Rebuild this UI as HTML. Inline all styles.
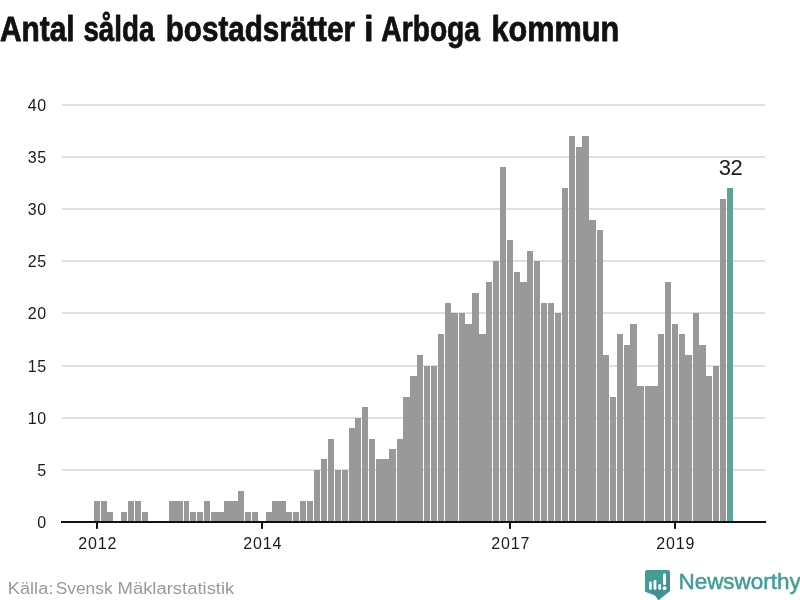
<!DOCTYPE html>
<html lang="sv"><head><meta charset="utf-8"><title>Antal sålda bostadsrätter i Arboga kommun</title>
<style>
html,body{margin:0;padding:0;background:#fff;}
body{width:800px;height:600px;position:relative;overflow:hidden;font-family:"Liberation Sans",sans-serif;}
#title{font-family:"Liberation Sans",sans-serif;font-weight:bold;font-size:35.2px;fill:#111;stroke:#111;stroke-width:0.8px;stroke-linejoin:round;}
#chart{position:absolute;left:0;top:0;}
.ax{font-family:"Liberation Sans",sans-serif;font-size:16px;fill:#1a1a1a;}
.xl{letter-spacing:0.85px;}
.yl{letter-spacing:0.5px;}
.val{font-family:"Liberation Sans",sans-serif;font-size:22px;letter-spacing:-0.6px;fill:#1a1a1a;}
#src{font-family:"Liberation Sans",sans-serif;font-size:16px;fill:#9a9a9a;}
#brand{font-family:"Liberation Sans",sans-serif;font-size:21.6px;fill:#419e97;stroke:#419e97;stroke-width:0.5px;}
#logo{position:absolute;left:644px;top:569px;}
</style></head><body>
<svg id="chart" width="800" height="600" viewBox="0 0 800 600">
<g shape-rendering="crispEdges">
<rect x="62" y="469" width="703" height="2" fill="#e0e0e0"/>
<rect x="62" y="417" width="703" height="2" fill="#e0e0e0"/>
<rect x="62" y="365" width="703" height="2" fill="#e0e0e0"/>
<rect x="62" y="312" width="703" height="2" fill="#e0e0e0"/>
<rect x="62" y="260" width="703" height="2" fill="#e0e0e0"/>
<rect x="62" y="208" width="703" height="2" fill="#e0e0e0"/>
<rect x="62" y="156" width="703" height="2" fill="#e0e0e0"/>
<rect x="62" y="104" width="703" height="2" fill="#e0e0e0"/>
<rect x="94" y="501" width="6" height="21" fill="#999999"/>
<rect x="101" y="501" width="6" height="21" fill="#999999"/>
<rect x="107" y="512" width="6" height="10" fill="#999999"/>
<rect x="121" y="512" width="6" height="10" fill="#999999"/>
<rect x="128" y="501" width="6" height="21" fill="#999999"/>
<rect x="135" y="501" width="6" height="21" fill="#999999"/>
<rect x="142" y="512" width="6" height="10" fill="#999999"/>
<rect x="169" y="501" width="7" height="21" fill="#999999"/>
<rect x="176" y="501" width="7" height="21" fill="#999999"/>
<rect x="184" y="501" width="5" height="21" fill="#999999"/>
<rect x="190" y="512" width="6" height="10" fill="#999999"/>
<rect x="197" y="512" width="6" height="10" fill="#999999"/>
<rect x="204" y="501" width="6" height="21" fill="#999999"/>
<rect x="211" y="512" width="6" height="10" fill="#999999"/>
<rect x="217" y="512" width="7" height="10" fill="#999999"/>
<rect x="224" y="501" width="7" height="21" fill="#999999"/>
<rect x="231" y="501" width="7" height="21" fill="#999999"/>
<rect x="238" y="491" width="6" height="31" fill="#999999"/>
<rect x="245" y="512" width="6" height="10" fill="#999999"/>
<rect x="252" y="512" width="6" height="10" fill="#999999"/>
<rect x="266" y="512" width="6" height="10" fill="#999999"/>
<rect x="272" y="501" width="7" height="21" fill="#999999"/>
<rect x="279" y="501" width="7" height="21" fill="#999999"/>
<rect x="286" y="512" width="6" height="10" fill="#999999"/>
<rect x="293" y="512" width="6" height="10" fill="#999999"/>
<rect x="300" y="501" width="6" height="21" fill="#999999"/>
<rect x="307" y="501" width="6" height="21" fill="#999999"/>
<rect x="314" y="470" width="6" height="52" fill="#999999"/>
<rect x="321" y="459" width="6" height="63" fill="#999999"/>
<rect x="328" y="439" width="6" height="83" fill="#999999"/>
<rect x="335" y="470" width="6" height="52" fill="#999999"/>
<rect x="342" y="470" width="6" height="52" fill="#999999"/>
<rect x="349" y="428" width="6" height="94" fill="#999999"/>
<rect x="355" y="418" width="6" height="104" fill="#999999"/>
<rect x="362" y="407" width="6" height="115" fill="#999999"/>
<rect x="369" y="439" width="6" height="83" fill="#999999"/>
<rect x="376" y="459" width="6" height="63" fill="#999999"/>
<rect x="382" y="459" width="7" height="63" fill="#999999"/>
<rect x="389" y="449" width="7" height="73" fill="#999999"/>
<rect x="397" y="439" width="6" height="83" fill="#999999"/>
<rect x="403" y="397" width="7" height="125" fill="#999999"/>
<rect x="410" y="376" width="7" height="146" fill="#999999"/>
<rect x="417" y="355" width="6" height="167" fill="#999999"/>
<rect x="424" y="366" width="6" height="156" fill="#999999"/>
<rect x="431" y="366" width="6" height="156" fill="#999999"/>
<rect x="438" y="334" width="6" height="188" fill="#999999"/>
<rect x="445" y="303" width="6" height="219" fill="#999999"/>
<rect x="451" y="313" width="7" height="209" fill="#999999"/>
<rect x="459" y="313" width="6" height="209" fill="#999999"/>
<rect x="465" y="324" width="7" height="198" fill="#999999"/>
<rect x="472" y="293" width="7" height="229" fill="#999999"/>
<rect x="479" y="334" width="7" height="188" fill="#999999"/>
<rect x="486" y="282" width="6" height="240" fill="#999999"/>
<rect x="493" y="261" width="6" height="261" fill="#999999"/>
<rect x="500" y="167" width="6" height="355" fill="#999999"/>
<rect x="507" y="240" width="6" height="282" fill="#999999"/>
<rect x="514" y="272" width="6" height="250" fill="#999999"/>
<rect x="520" y="282" width="7" height="240" fill="#999999"/>
<rect x="527" y="251" width="6" height="271" fill="#999999"/>
<rect x="534" y="261" width="6" height="261" fill="#999999"/>
<rect x="541" y="303" width="6" height="219" fill="#999999"/>
<rect x="548" y="303" width="6" height="219" fill="#999999"/>
<rect x="555" y="313" width="6" height="209" fill="#999999"/>
<rect x="562" y="188" width="6" height="334" fill="#999999"/>
<rect x="569" y="136" width="6" height="386" fill="#999999"/>
<rect x="576" y="147" width="6" height="375" fill="#999999"/>
<rect x="582" y="136" width="7" height="386" fill="#999999"/>
<rect x="589" y="220" width="7" height="302" fill="#999999"/>
<rect x="597" y="230" width="6" height="292" fill="#999999"/>
<rect x="603" y="355" width="6" height="167" fill="#999999"/>
<rect x="610" y="397" width="6" height="125" fill="#999999"/>
<rect x="617" y="334" width="6" height="188" fill="#999999"/>
<rect x="624" y="345" width="6" height="177" fill="#999999"/>
<rect x="630" y="324" width="7" height="198" fill="#999999"/>
<rect x="637" y="386" width="7" height="136" fill="#999999"/>
<rect x="645" y="386" width="6" height="136" fill="#999999"/>
<rect x="651" y="386" width="7" height="136" fill="#999999"/>
<rect x="658" y="334" width="6" height="188" fill="#999999"/>
<rect x="665" y="282" width="6" height="240" fill="#999999"/>
<rect x="672" y="324" width="6" height="198" fill="#999999"/>
<rect x="679" y="334" width="6" height="188" fill="#999999"/>
<rect x="685" y="355" width="7" height="167" fill="#999999"/>
<rect x="693" y="313" width="6" height="209" fill="#999999"/>
<rect x="699" y="345" width="7" height="177" fill="#999999"/>
<rect x="706" y="376" width="6" height="146" fill="#999999"/>
<rect x="713" y="366" width="6" height="156" fill="#999999"/>
<rect x="720" y="199" width="6" height="323" fill="#999999"/>
<rect x="727" y="188" width="6" height="334" fill="#5ba59b"/>
</g>
<rect x="61" y="521" width="705" height="2" fill="#111111"/>
<rect x="96" y="522" width="2" height="6.85" fill="#111111"/>
<text x="97.80" y="549" text-anchor="middle" class="ax xl">2012</text>
<rect x="261" y="522" width="2" height="6.85" fill="#111111"/>
<text x="262.80" y="549" text-anchor="middle" class="ax xl">2014</text>
<rect x="509" y="522" width="2" height="6.85" fill="#111111"/>
<text x="510.80" y="549" text-anchor="middle" class="ax xl">2017</text>
<rect x="674" y="522" width="2" height="6.85" fill="#111111"/>
<text x="675.80" y="549" text-anchor="middle" class="ax xl">2019</text>
<text x="46.6" y="527.80" text-anchor="end" class="ax yl">0</text>
<text x="46.6" y="475.80" text-anchor="end" class="ax yl">5</text>
<text x="46.6" y="423.80" text-anchor="end" class="ax yl">10</text>
<text x="46.6" y="371.80" text-anchor="end" class="ax yl">15</text>
<text x="46.6" y="318.80" text-anchor="end" class="ax yl">20</text>
<text x="46.6" y="266.80" text-anchor="end" class="ax yl">25</text>
<text x="46.6" y="214.80" text-anchor="end" class="ax yl">30</text>
<text x="46.6" y="162.80" text-anchor="end" class="ax yl">35</text>
<text x="46.6" y="110.80" text-anchor="end" class="ax yl">40</text>
<text x="730.50" y="174.7" text-anchor="middle" class="val">32</text>
<text id="title" y="41.4"><tspan x="-0.11" textLength="74.73" lengthAdjust="spacingAndGlyphs">Antal</tspan> <tspan x="83.42" textLength="71.01" lengthAdjust="spacingAndGlyphs">sålda</tspan> <tspan x="165.75" textLength="189.20" lengthAdjust="spacingAndGlyphs">bostadsrätter</tspan> <tspan x="364.28" textLength="9.20" lengthAdjust="spacingAndGlyphs">i</tspan> <tspan x="381.37" textLength="98.63" lengthAdjust="spacingAndGlyphs">Arboga</tspan> <tspan x="491.38" textLength="127.74" lengthAdjust="spacingAndGlyphs">kommun</tspan></text>
<text id="src" y="594.1"><tspan x="7.83" textLength="45.49" lengthAdjust="spacingAndGlyphs">Källa:</tspan> <tspan x="55.77" textLength="56.78" lengthAdjust="spacingAndGlyphs">Svensk</tspan> <tspan x="117.54" textLength="116.78" lengthAdjust="spacingAndGlyphs">Mäklarstatistik</tspan></text>
<text id="brand" y="588.5"><tspan x="678.40" textLength="122.46" lengthAdjust="spacingAndGlyphs">Newsworthy</tspan></text>
</svg>
<svg id="logo" width="28" height="32" viewBox="0 0 28 32">
<path d="M3 1 H24 Q26 1 26 3 V22 L14.5 31.4 L11 26.6 L1 22.7 V3 Q1 1 3 1 Z" fill="#419e97"/>
<g fill="#3d5a9c" fill-opacity="0.24">
<path d="M22.1 5 L26 8.9 V22 L23.6 24 L19.3 19.7 L22.1 18.5 Z"/>
<path d="M5 20.6 H17.1 L21.4 24.9 L14.5 30.6 L11 26.6 Z"/>
<path d="M7.8 13.2 L9.6 15 V20.6 H7.8 Z M12.4 11.6 L14.3 13.5 V20.6 H12.4 Z M17.1 15.6 L19 17.5 V20.6 H17.1 Z"/>
</g>
<g stroke="#fff" stroke-linecap="round">
<line x1="6.4" y1="14" x2="6.4" y2="19.4" stroke-width="2.8"/>
<line x1="11" y1="12.3" x2="11" y2="19.4" stroke-width="2.8"/>
<line x1="15.7" y1="16.4" x2="15.7" y2="19.4" stroke-width="2.8"/>
<line x1="20.55" y1="5.9" x2="20.55" y2="14.5" stroke-width="3.1"/>
</g>
<circle cx="20.55" cy="19.15" r="1.95" fill="#fff"/>
</svg>
</body></html>
